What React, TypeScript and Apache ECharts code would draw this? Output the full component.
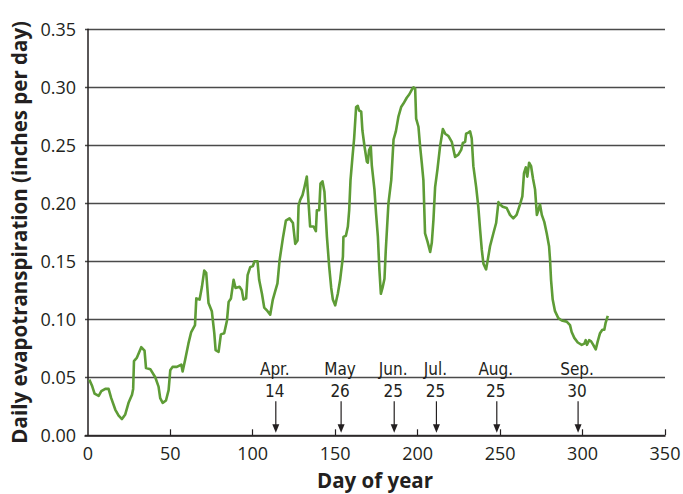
import React, { useEffect, useRef } from "react";
import * as echarts from "echarts";

const days = [
  0.9, 2.5, 4.1, 6.6, 8.2, 10.6, 12.6, 14.2, 16.7, 18.7, 20.7, 22.7, 24.7, 26.8, 27.5, 28, 29.8, 32.4, 34.4, 35.3,
  37.9, 40.9, 42.9, 43.9, 45.4, 47.4, 49, 50, 51.4, 54, 56.7, 57.5, 59, 61, 62.7, 65, 65.8, 67.8, 69.2, 70.6,
  71.8, 73.2, 75.2, 76.7, 77.5, 79.3, 80.7, 82.7, 84.4, 85.4, 86.8, 88.4, 89.6, 92, 93.4, 94.4, 96, 96.9, 98.5, 100.1,
  101.1, 102.9, 103.9, 105.6, 107, 109, 110.6, 112.2, 113.6, 115, 116.3, 118.3, 120.1, 122.3, 124.4, 125.8, 127.2, 127.8, 128.8, 130.2,
  131.4, 132.8, 134.8, 136.9, 138.3, 138.9, 140.3, 141.1, 142.3, 143.5, 145, 146.4, 147.6, 148.6, 150, 151.6, 153, 154.7, 155, 156.5,
  157.7, 158.5, 159.3, 160.5, 161.5, 162.7, 163.7, 164.5, 165.8, 166.5, 167.8, 169.2, 169.8, 170.6, 171.6, 172.2, 173.8, 174.8, 175.9, 176.8,
  177.7, 178.7, 179.9, 180.7, 182.3, 184, 185.4, 186.8, 188.4, 190, 191.4, 193.4, 195, 196.5, 197.5, 198.5, 199.1, 200.5, 201.5, 202.5,
  203.5, 204.5, 206, 207.6, 208.6, 209.6, 210.6, 212, 213.6, 215.3, 216.7, 218.7, 220.7, 222.7, 224.7, 226.4, 227.4, 228.8, 229.4, 230.8,
  231.8, 232.8, 233.8, 235.5, 236.8, 237.9, 238.9, 239.9, 241.5, 242.5, 243.9, 245.9, 247.6, 249, 250, 251.6, 254, 256, 258, 260,
  262.1, 263.5, 264.5, 265.6, 266.5, 267.6, 268.8, 270, 271.2, 272.3, 273.2, 274.2, 275.3, 276.8, 278.3, 279.7, 280.3, 280.9, 281.9, 283.3,
  285.3, 287.4, 290.4, 292.4, 293.4, 295, 297.1, 299.5, 301.1, 301.9, 302.7, 304, 305.2, 306.5, 308, 309.2, 310.6, 312, 313.2, 314,
  315.3,
];

const et = [
  0.048, 0.043, 0.036, 0.034, 0.038, 0.04, 0.04, 0.032, 0.022, 0.017, 0.014, 0.018, 0.028, 0.035, 0.04, 0.064, 0.067, 0.076, 0.073, 0.058,
  0.057, 0.05, 0.042, 0.032, 0.028, 0.03, 0.039, 0.056, 0.059, 0.059, 0.061, 0.055, 0.065, 0.079, 0.089, 0.095, 0.118, 0.117, 0.128, 0.142,
  0.14, 0.114, 0.107, 0.088, 0.0735, 0.072, 0.087, 0.088, 0.099, 0.115, 0.118, 0.134, 0.127, 0.128, 0.125, 0.117, 0.118, 0.138, 0.145, 0.146,
  0.15, 0.15, 0.134, 0.122, 0.11, 0.107, 0.104, 0.117, 0.124, 0.131, 0.151, 0.17, 0.185, 0.187, 0.183, 0.165, 0.168, 0.198, 0.203, 0.207,
  0.214, 0.223, 0.18, 0.18, 0.176, 0.194, 0.194, 0.217, 0.219, 0.21, 0.171, 0.145, 0.127, 0.117, 0.112, 0.122, 0.134, 0.154, 0.171, 0.172,
  0.18, 0.194, 0.22, 0.24, 0.256, 0.283, 0.284, 0.28, 0.279, 0.263, 0.249, 0.236, 0.235, 0.246, 0.249, 0.233, 0.212, 0.191, 0.171, 0.143,
  0.122, 0.127, 0.135, 0.16, 0.2, 0.22, 0.255, 0.262, 0.275, 0.283, 0.286, 0.291, 0.294, 0.298, 0.3, 0.299, 0.273, 0.266, 0.249, 0.235,
  0.22, 0.174, 0.167, 0.158, 0.166, 0.186, 0.214, 0.229, 0.249, 0.264, 0.26, 0.258, 0.253, 0.24, 0.242, 0.246, 0.252, 0.253, 0.26, 0.261,
  0.262, 0.256, 0.232, 0.214, 0.197, 0.177, 0.16, 0.148, 0.143, 0.151, 0.163, 0.174, 0.183, 0.201, 0.199, 0.197, 0.196, 0.19, 0.187, 0.19,
  0.199, 0.206, 0.226, 0.231, 0.223, 0.235, 0.232, 0.221, 0.212, 0.19, 0.194, 0.199, 0.19, 0.184, 0.174, 0.163, 0.151, 0.134, 0.117, 0.107,
  0.101, 0.099, 0.098, 0.095, 0.089, 0.084, 0.08, 0.078, 0.079, 0.082, 0.078, 0.082, 0.081, 0.078, 0.074, 0.081, 0.088, 0.091, 0.091, 0.097,
  0.103,
];

const markerDays = [114, 153.6, 185.8, 211.4, 248, 297.3];
const markerMonths = ["Apr.", "May", "Jun.", "Jul.", "Aug.", "Sep."];
const markerDates = ["14", "26", "25", "25", "25", "30"];

const xTicks = [0, 50, 100, 150, 200, 250, 300, 350];

const TEXT = "#231f20";
const FONT = "'Open Sans', 'Noto Sans', sans-serif";
const NARROW = "'Liberation Sans Narrow', 'DejaVu Sans Condensed', 'Roboto', sans-serif";

export default function App() {
  const ref = useRef<HTMLDivElement>(null);
  useEffect(() => {
    if (!ref.current) return;
    const chart = echarts.init(ref.current, undefined, { renderer: "svg" });
    const lineData = days.map((d, i) => [d, et[i]]);
    const markerData = markerDays.map((d, i) => [d, 0, i]);
    chart.setOption({
      animation: false,
      backgroundColor: "#ffffff",
      grid: {
        left: 85,
        right: 18,
        top: 29.3,
        bottom: 58.7,
        containLabel: false,
        outerBoundsMode: "none",
      },
      xAxis: {
        type: "value",
        min: -1.7,
        max: 350,
        name: "Day of year",
        nameLocation: "middle",
        nameGap: 34,
        nameTextStyle: { color: TEXT, fontFamily: FONT, fontWeight: "bold", fontSize: 20.5 },
        axisLine: { show: true, onZero: false, lineStyle: { color: TEXT, width: 1.5 } },
        axisTick: {
          show: true,
          inside: true,
          length: 6,
          customValues: xTicks.filter((v) => v > 0),
          lineStyle: { color: TEXT, width: 1.2 },
        },
        axisLabel: {
          customValues: xTicks,
          color: TEXT,
          fontFamily: FONT,
          fontSize: 18,
          margin: 9,
          formatter: (v: number) => String(v),
        },
        splitLine: { show: false },
      },
      yAxis: {
        type: "value",
        min: 0,
        max: 0.35,
        interval: 0.05,
        name: "Daily evapotranspiration (inches per day)",
        nameLocation: "middle",
        nameGap: 56,
        nameTextStyle: { color: TEXT, fontFamily: FONT, fontWeight: "bold", fontSize: 20.5 },
        axisLine: { show: true, lineStyle: { color: TEXT, width: 1.5 } },
        axisTick: { show: false },
        axisLabel: {
          color: TEXT,
          fontFamily: FONT,
          fontSize: 18,
          margin: 9,
          formatter: (v: number) => v.toFixed(2),
        },
        splitLine: { show: true, lineStyle: { color: "#4a4a4a", width: 1.3 } },
      },
      series: [
        {
          type: "line",
          data: lineData,
          showSymbol: false,
          symbol: "none",
          lineStyle: { color: "#5e9c36", width: 2.6, join: "round" },
          z: 3,
        },
        {
          type: "custom",
          data: markerData,
          silent: true,
          z: 4,
          encode: { x: 0, y: 1 },
          renderItem: (params: any, api: any) => {
            const idx = params.dataIndex;
            const p = api.coord([api.value(0), 0]);
            const x = p[0];
            const y = p[1];
            return {
              type: "group",
              children: [
                {
                  type: "text",
                  style: {
                    x: x - 1,
                    y: y - 66,
                    text: markerMonths[idx],
                    fill: TEXT,
                    font: `17px ${NARROW}`,
                    align: "center",
                    verticalAlign: "middle",
                  },
                },
                {
                  type: "text",
                  style: {
                    x: x - 1,
                    y: y - 44,
                    text: markerDates[idx],
                    fill: TEXT,
                    font: `17px ${NARROW}`,
                    align: "center",
                    verticalAlign: "middle",
                  },
                },
                {
                  type: "line",
                  shape: { x1: x, y1: y - 34, x2: x, y2: y - 6 },
                  style: { stroke: TEXT, lineWidth: 1.2 },
                },
                {
                  type: "polygon",
                  shape: { points: [[x - 3.5, y - 11], [x + 3.5, y - 11], [x, y - 2.5]] },
                  style: { fill: TEXT },
                },
              ],
            };
          },
        },
      ],
    });
    return () => chart.dispose();
  }, []);
  return (
    <div
      ref={ref}
      style={{ position: "fixed", left: 0, top: 0, width: 683, height: 494, background: "#fff" }}
    />
  );
}
